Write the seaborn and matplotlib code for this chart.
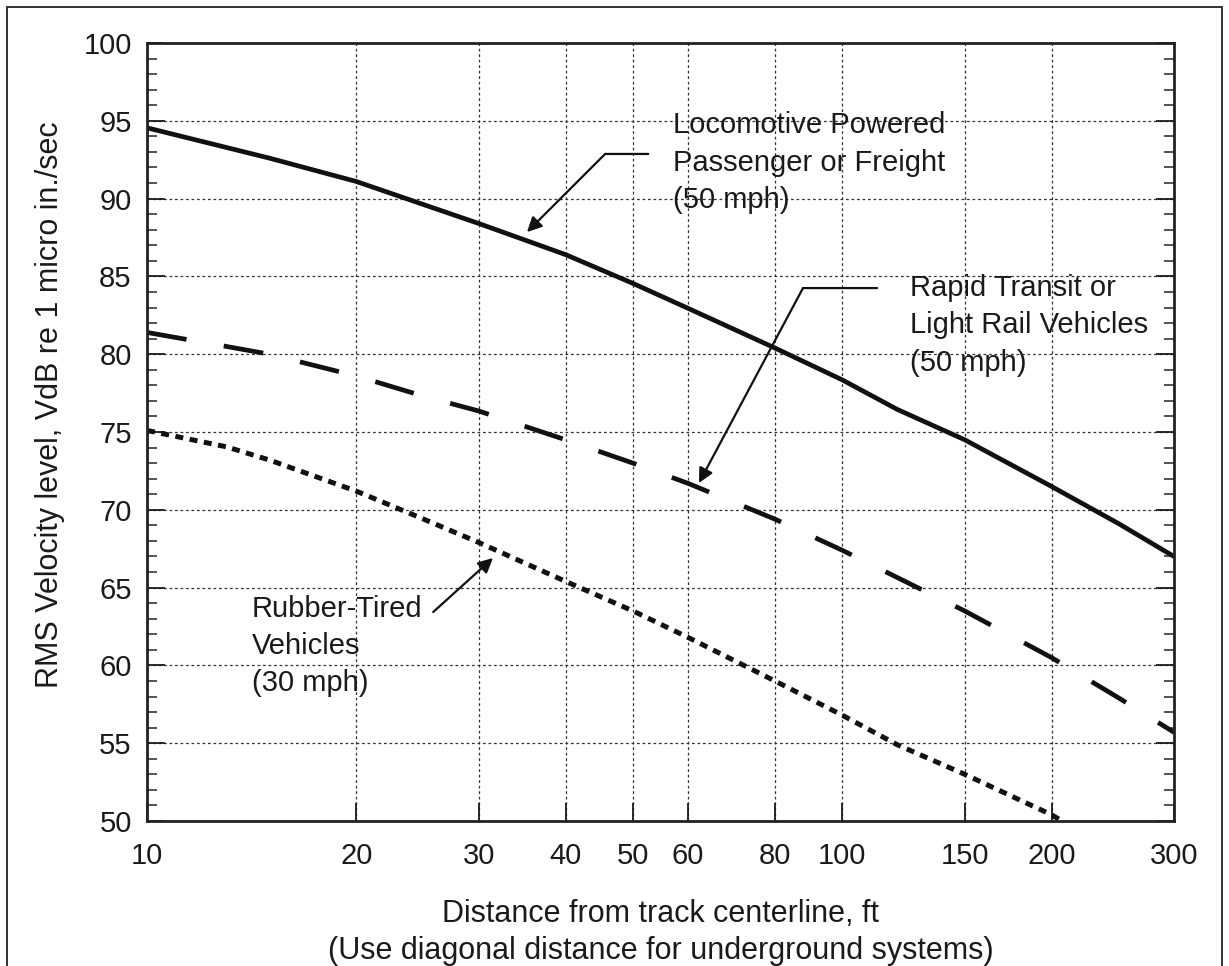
import numpy as np
import pandas as pd
import matplotlib
matplotlib.use("Agg")
import matplotlib.pyplot as plt
from matplotlib.ticker import FixedLocator, MultipleLocator, NullLocator
from matplotlib.patches import Rectangle
import seaborn as sns

# ---- data ----
dist_loco = [10, 15, 20, 30, 40, 50, 60, 80, 100, 120, 150, 200, 250, 300]
loco_vdb = [94.55, 92.6, 91.1, 88.4, 86.4, 84.55, 82.95, 80.4, 78.35, 76.45, 74.5, 71.5, 69.1, 67.0]
dist_rail = [10, 13, 15, 20, 25, 30, 40, 50, 60, 80, 100, 150, 200, 250, 300]
rail_vdb = [81.4, 80.5, 80.0, 78.6, 77.3, 76.35, 74.5, 73.0, 71.7, 69.4, 67.4, 63.5, 60.5, 57.9, 55.7]
dist_rubber = [10, 13, 15, 20, 25, 30, 40, 50, 60, 80, 100, 120, 150, 200, 207]
rubber_vdb = [75.1, 74.05, 73.2, 71.2, 69.4, 67.9, 65.4, 63.5, 61.8, 59.0, 56.8, 54.9, 53.0, 50.4, 50.0]

x_ticks = [10, 20, 30, 40, 50, 60, 80, 100, 150, 200, 300]
x_tick_labels = ["10", "20", "30", "40", "50", "60", "80", "100", "150", "200", "300"]
y_ticks = [50, 55, 60, 65, 70, 75, 80, 85, 90, 95, 100]

label_loco = "Locomotive Powered\nPassenger or Freight\n(50 mph)"
label_rail = "Rapid Transit or\nLight Rail Vehicles\n(50 mph)"
label_rubber = "Rubber-Tired\nVehicles\n(30 mph)"
xlabel = "Distance from track centerline, ft\n(Use diagonal distance for underground systems)"
ylabel = "RMS Velocity level, VdB re 1 micro in./sec"

df_loco = pd.DataFrame({"d": dist_loco, "v": loco_vdb})
df_rail = pd.DataFrame({"d": dist_rail, "v": rail_vdb})
df_rub = pd.DataFrame({"d": dist_rubber, "v": rubber_vdb})

sns.set_theme(style="white")
plt.rcParams["font.family"] = ["Liberation Sans", "DejaVu Sans"]
TXT = "#1a1a1a"
FS = 21

fig = plt.figure(figsize=(12.29, 9.66), dpi=100)
ax = fig.add_axes([147/1229, 1-821/966, (1174-147)/1229, (821-43)/966])
ax.set_xscale("log")

sns.lineplot(data=df_loco, x="d", y="v", ax=ax, color="#111111", lw=3.4)
sns.lineplot(data=df_rail, x="d", y="v", ax=ax, color="#111111", lw=3.4)
ax.lines[-1].set_dashes((8.5, 8.0))
ax.lines[-1].set_dash_capstyle("butt")
sns.lineplot(data=df_rub, x="d", y="v", ax=ax, color="#111111", lw=3.6)
ax.lines[-1].set_dashes((1.6, 1.3))
ax.lines[-1].set_dash_capstyle("butt")

ax.set_xlim(10, 300)
ax.set_ylim(50, 100)
ax.xaxis.set_major_locator(FixedLocator(x_ticks))
ax.xaxis.set_minor_locator(NullLocator())
ax.set_xticklabels(x_tick_labels)
ax.yaxis.set_major_locator(FixedLocator(y_ticks))
ax.yaxis.set_minor_locator(MultipleLocator(1))

ax.grid(True, which="major", linestyle=(0, (2.2, 2.2)), linewidth=0.9, color="#333333")
ax.tick_params(axis="x", which="major", direction="in", length=13, width=1.3,
               bottom=True, top=False, pad=15, labelsize=FS, colors=TXT)
ax.tick_params(axis="y", which="major", direction="in", length=13, width=1.3,
               left=True, right=True, pad=11, labelsize=FS, colors=TXT)
ax.tick_params(axis="y", which="minor", direction="in", length=7, width=1.1,
               left=True, right=True)
for s in ax.spines.values():
    s.set_visible(True)
    s.set_color("#222222")
    s.set_linewidth(2.0)

ax.set_xlabel(xlabel, fontsize=22, color=TXT, linespacing=1.3)
ax.xaxis.set_label_coords(0.5, -0.1, transform=ax.transAxes)
ax.xaxis.label.set_va("top")
ax.set_ylabel(ylabel, fontsize=22, color=TXT)
ax.yaxis.set_label_coords(-0.094, 0.535, transform=ax.transAxes)
ax.yaxis.label.set_va("center")

# ---- annotations ----
tkw = dict(fontsize=FS, color=TXT, ha="left", va="top", linespacing=1.42)
ax.text(57.1, 95.6, label_loco, **tkw)
ax.text(10 ** (1 + (910 - 147) / 695.3), 85.15, label_rail, **tkw)
ax.text(10 ** (1 + (252 - 147) / 695.3), 64.55, label_rubber, **tkw)

akw = dict(arrowstyle="-|>", color="#111111", lw=1.6, mutation_scale=22,
           shrinkA=0, shrinkB=0)
lkw = dict(arrowstyle="-", color="#111111", lw=1.6, shrinkA=0, shrinkB=0)
# locomotive
ax.annotate("", xy=(52.6, 92.87), xytext=(45.6, 92.87), arrowprops=lkw)
ax.annotate("", xy=(35.2, 87.85), xytext=(45.6, 92.87), arrowprops=akw)
# rapid transit
ax.annotate("", xy=(112.2, 84.25), xytext=(87.8, 84.25), arrowprops=lkw)
ax.annotate("", xy=(62.2, 71.72), xytext=(87.8, 84.25), arrowprops=akw)
# rubber tired
ax.annotate("", xy=(31.45, 66.9), xytext=(25.8, 63.43), arrowprops=akw)

# figure frame
fig.patches.append(Rectangle((7/1229, -0.02), (1222-7)/1229, 0.02 + (966-7)/966,
                             transform=fig.transFigure, fill=False,
                             edgecolor="#222222", lw=1.3))

fig.savefig("out.png", dpi=100, facecolor="white")
